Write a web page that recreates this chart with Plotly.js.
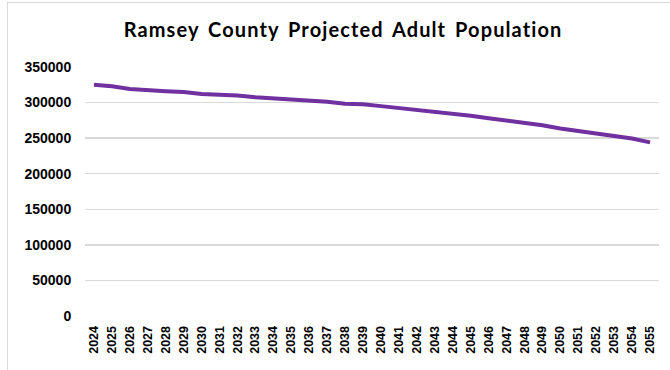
<!DOCTYPE html>
<html>
<head>
<meta charset="utf-8">
<script src="https://cdn.plot.ly/plotly-3.0.1.min.js"></script>
<style>
  html, body { margin: 0; padding: 0; background: #fff; }
  #wrap { position: relative; width: 670px; height: 370px; overflow: hidden; }
  #frame { position: absolute; left: 7px; top: 2px; width: 700px; height: 400px; border: 1.5px solid #d9d9d9; box-sizing: border-box; }
  #chart { position: absolute; left: 0; top: 0; width: 670px; height: 370px; }
  .gtitle { letter-spacing: 1.1px; word-spacing: 3px; }
</style>
</head>
<body>
<div id="wrap">
  <div id="frame"></div>
  <div id="chart"></div>
</div>
<script>
const years = ["2024","2025","2026","2027","2028","2029","2030","2031","2032","2033","2034","2035","2036","2037","2038","2039","2040","2041","2042","2043","2044","2045","2046","2047","2048","2049","2050","2051","2052","2053","2054","2055"];
const population = [325000,323000,319000,317000,316000,315000,312000,311000,310000,307500,306000,305000,302500,301000,298500,297500,295000,292500,290000,287500,284000,281500,278000,275000,271500,268000,263500,260000,256500,253000,249500,244000];
const yTicks = [0,50000,100000,150000,200000,250000,300000,350000];
const chartTitle = "Ramsey County Projected Adult Population";

Plotly.newPlot('chart', [{
  x: years,
  y: population,
  type: 'scatter',
  mode: 'lines',
  line: { color: '#7030a0', width: 4 },
  hoverinfo: 'skip'
}], {
  width: 670, height: 370,
  margin: { l: 85, r: 11, t: 67, b: 54 },
  paper_bgcolor: 'rgba(0,0,0,0)',
  plot_bgcolor: 'rgba(0,0,0,0)',
  showlegend: false,
  title: {
    text: '<b>' + chartTitle + '</b>',
    font: { family: 'Lato, sans-serif', size: 20, color: '#000' },
    x: 0.512, xanchor: 'center', y: 0.918, yanchor: 'middle'
  },
  xaxis: {
    type: 'category',
    tickangle: -90,
    tickfont: { family: 'Liberation Sans, Arial, sans-serif', size: 12.5, color: '#000', weight: 'bold' },
    showgrid: false, showline: false, zeroline: false,
    ticks: 'outside', ticklen: 4, tickcolor: 'rgba(0,0,0,0)',
    range: [-0.5, years.length - 0.5]
  },
  yaxis: {
    range: [0, 350000],
    tickvals: yTicks,
    ticktext: yTicks.map(String),
    tickfont: { family: 'Liberation Sans, Arial, sans-serif', size: 14, color: '#000', weight: 'bold' },
    showgrid: true, gridcolor: '#d9d9d9', gridwidth: 1.5,
    zeroline: false, showline: false,
    ticks: 'outside', ticklen: 10, tickcolor: 'rgba(0,0,0,0)'
  }
}, { staticPlot: true });
</script>
</body>
</html>
